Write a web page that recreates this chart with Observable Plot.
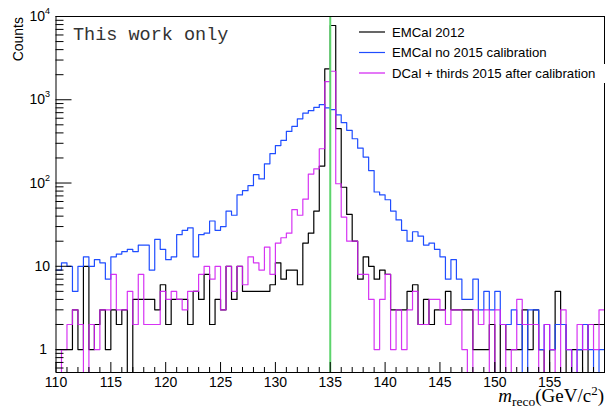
<!DOCTYPE html>
<html><head><meta charset="utf-8">
<script src="https://cdn.jsdelivr.net/npm/d3@7"></script>
<script src="https://cdn.jsdelivr.net/npm/@observablehq/plot@0.6"></script>
<style>body{margin:0;background:#fff}svg{display:block}</style>
</head><body><div id="chart"></div>
<script>
const binStart = 110;
const binWidth = 0.5;
const blackCounts = [1,1,1,3,1,10,1,2,3,1,3,2,3,0,4,4,4,
  4,3,6,2,4,4,4,2,5,4,8,2,4,3,10,4,10,5,
  5,5,5,5,6,11,7,9,9,6,19,25,46,160,2350,7800,
  450,89,42,20,7,13,10,7,9,8,3,3,3,5,6,2,4,2,
  3,3,5,3,3,3,3,1,1,1,2,0,2,1,1,
  1,3,1,3,1,0,1,5,2,0,1,1,0,2,2,2];
const blueCounts = [9,11,10,5,10,13,10,12,11,7,13,14,15,16,15,18,18,
  9,21,16,12,13,24,27,29,13,24,25,35,27,30,46,41,72,81,
  93,126,112,170,225,282,325,417,478,590,690,740,810,875,800,760,
  660,530,430,340,262,205,141,78,72,63,46,36,27,20,26,23,18,19,
  16,13,7,12,7,4,4,7,3,5,3,5,2,2,3,
  2,0,3,3,1,2,1,2,2,1,0,1,2,1,0,1];
const magentaCounts = [0,1,2,3,2,0,2,1,3,3,8,3,3,5,2,8,2,
  2,2,5,4,5,4,3,5,5,8,10,7,10,3,10,5,10,6,
  13,11,9,17,8,19,22,25,48,41,64,128,148,258,1650,2200,
  98,39,20,20,8,8,4,1,4,8,1,3,1,3,5,2,2,4,
  4,3,2,3,3,1,0,3,2,3,0,3,2,0,1,
  4,2,2,2,0,2,1,0,3,1,0,2,1,2,1,3];
const seriesNames = ["EMCal 2012", "EMCal no 2015 calibration", "DCal + thirds 2015 after calibration"];
const seriesColors = ["#000000", "#1f4dff", "#d21ef2"];
const xMajorTicks = [110,115,120,125,130,135,140,145,150,155,160];
const xLabelTicks = [110,115,120,125,130,135,140,145,150,155];
const yMajorTicks = [1,10,100,1000,10000];
const yMinorTicks = [0.6,0.7,0.8,0.9,2,3,4,5,6,7,8,9,20,30,40,50,60,70,80,90,200,300,400,500,600,700,800,900,2000,3000,4000,5000,6000,7000,8000,9000];
const markerMass = 135;
const yDomain = [0.53, 10000];

function steps(vals, name) {
  const pts = [];
  vals.forEach((v, i) => {
    const y = v > 0 ? v : 0.2;
    pts.push({x: binStart + i * binWidth, y, name});
    pts.push({x: binStart + (i + 1) * binWidth, y, name});
  });
  return pts;
}
const xMinorTicks = d3.range(111, 160).filter(d => d % 5 !== 0);

const chart = Plot.plot({
  width: 606, height: 409,
  marginLeft: 55.5, marginRight: 2, marginTop: 16, marginBottom: 37,
  style: {background: "#fff", fontFamily: "Liberation Sans, Arial, sans-serif"},
  x: {domain: [110, 160], axis: null},
  y: {type: "log", domain: yDomain, axis: null},
  marks: [
    Plot.line(steps(blackCounts, seriesNames[0]), {x: "x", y: "y", stroke: seriesColors[0], strokeWidth: 1.2, clip: true}),
    Plot.line(steps(blueCounts, seriesNames[1]), {x: "x", y: "y", stroke: seriesColors[1], strokeWidth: 1.2, clip: true}),
    Plot.line(steps(magentaCounts, seriesNames[2]), {x: "x", y: "y", stroke: seriesColors[2], strokeWidth: 1.2, strokeOpacity: 0.9, clip: true}),
    Plot.ruleX([markerMass], {stroke: "#5dd46c", strokeWidth: 2}),
    Plot.axisX(xMajorTicks, {tickSize: -10, tickFormat: () => "", stroke: "#000", label: null}),
    Plot.axisX(xMinorTicks, {tickSize: -5, tickFormat: () => "", stroke: "#000", label: null}),
    Plot.axisX(xLabelTicks, {tickSize: 0, tickPadding: 5, fontSize: 14, tickFormat: d => String(d), fill: "#000", label: null}),
    Plot.axisY(yMajorTicks, {tickSize: -16, tickFormat: () => "", stroke: "#000", label: null}),
    Plot.axisY(yMinorTicks, {tickSize: -8, tickFormat: () => "", stroke: "#000", label: null}),
    Plot.frame({stroke: "#000", strokeWidth: 1})
  ]
});
document.getElementById("chart").appendChild(chart);

const svg = d3.select(chart);
const sx = chart.scale("x"), sy = chart.scale("y");
const sans = "Liberation Sans, Arial, sans-serif";

// y tick labels with superscripts
yMajorTicks.forEach(v => {
  const e = Math.round(Math.log10(v));
  const y = sy.apply(v);
  const t = svg.append("text").attr("y", y + 5).attr("font-family", sans).attr("font-size", 14).attr("fill", "#000").attr("text-anchor", "end");
  if (e <= 1) {
    t.attr("x", e === 0 ? 47 : 50).text(String(v));
  } else {
    t.attr("x", 50);
    t.append("tspan").text("10");
    t.append("tspan").attr("font-size", 9).attr("dy", -7).text(String(e));
  }
});

// y axis title
svg.append("text").attr("transform", `translate(23,${sy.apply(10000) + 1}) rotate(-90)`)
  .attr("text-anchor", "end").attr("font-family", sans).attr("font-size", 14).attr("fill", "#000").text("Counts");

// x axis title
const xt = svg.append("text").attr("x", sx.apply(160)).attr("y", 402).attr("text-anchor", "end")
  .attr("font-family", "Liberation Serif, Times New Roman, serif").attr("font-size", 19).attr("fill", "#000");
xt.append("tspan").attr("font-style", "italic").text("m");
xt.append("tspan").attr("font-size", 13.5).attr("dy", 3.5).text("reco");
xt.append("tspan").attr("dy", -3.5).text("(GeV/c");
xt.append("tspan").attr("font-size", 13).attr("dy", -7).text("2");
xt.append("tspan").attr("dy", 7).text(")");

// watermark
svg.append("text").attr("x", 73).attr("y", 39.5).attr("text-anchor", "start").attr("font-family", "Liberation Mono, Courier New, monospace")
  .attr("font-size", 18.5).attr("fill", "#333").text("This work only");

// legend
svg.append("rect").attr("x", 597).attr("y", 64).attr("width", 9).attr("height", 19).attr("fill", "#fff");
const legY = [32, 52.5, 73];
seriesNames.forEach((name, i) => {
  svg.append("line").attr("x1", 359).attr("x2", 385).attr("y1", legY[i]).attr("y2", legY[i])
    .attr("stroke", seriesColors[i]).attr("stroke-width", 1.2);
  svg.append("text").attr("x", 392).attr("y", legY[i] + 4.5).attr("text-anchor", "start").attr("font-family", sans).attr("font-size", 13.2)
    .attr("fill", "#000").text(name);
});
</script></body></html>
